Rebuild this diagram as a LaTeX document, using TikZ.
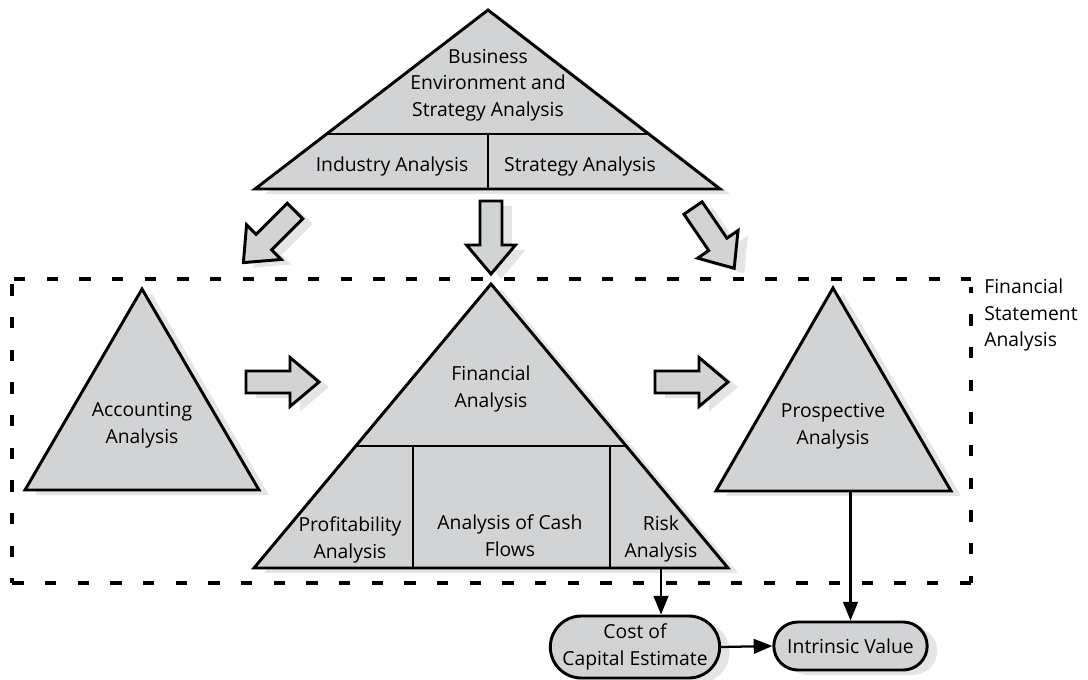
\documentclass[tikz,border=0pt]{standalone}
\usepackage{fontspec}
\setmainfont{Open Sans}
\usetikzlibrary{arrows.meta,shapes.misc,shadows}
\definecolor{boxfill}{RGB}{210,211,213}
\definecolor{shadowc}{RGB}{228,229,231}
\tikzset{
  lbl/.style={font=\fontsize{14.5}{20}\selectfont, align=center, inner sep=0pt},
  shape3/.style={draw=black, fill=boxfill, line width=2.2pt, line join=miter},
  divline/.style={line width=2.2pt},
  shad/.style={drop shadow={shadow xshift=7.5pt, shadow yshift=-3.75pt, fill=shadowc, opacity=1}},
  conn/.style={line width=1.7pt, -{Triangle[length=14pt,width=11pt]}},
  pill/.style={rounded rectangle, draw=black, fill=boxfill, line width=2.2pt, inner sep=2pt,
    font=\fontsize{14.5}{20}\selectfont, align=center, shad},
  dashbox/.style={line width=2.7pt, dash pattern=on 8.5pt off 16pt},
  barrow/.pic={
    \fill[shadowc, shift={(7.5pt,-3.75pt)}, rotate=#1]
      (0,-11) -- (44,-11) -- (44,-24.5) -- (73,0) -- (44,24.5) -- (44,11) -- (0,11) -- cycle;
    \filldraw[shape3, rotate=#1]
      (0,-11) -- (44,-11) -- (44,-24.5) -- (73,0) -- (44,24.5) -- (44,11) -- (0,11) -- cycle;
  }
}
\begin{document}
\begin{tikzpicture}[x=0.75pt,y=-0.75pt]
\useasboundingbox (0,0) rectangle (1088,679);

% dashed frame
\draw[dashbox] (14,279) -- (971,279);
\draw[dashbox, dash phase=4pt] (971,287) -- (971,583);
\draw[dashbox] (971,583) -- (12,583);
\draw[dashbox, dash phase=5pt] (12,583) -- (12,279);

% top triangle
\filldraw[shape3, shad] (488,10) -- (720,189) -- (255,189) -- cycle;
\draw[divline] (326.6,134) -- (648.7,134);
\draw[divline] (488,134) -- (488,189);

% accounting triangle
\filldraw[shape3, shad] (142,289) -- (259,490) -- (25,490) -- cycle;

% financial triangle
\filldraw[shape3, shad] (491,284) -- (728,568) -- (254,568) -- cycle;
\draw[divline] (355.8,446) -- (626.2,446);
\draw[divline] (413,446) -- (413,568);
\draw[divline] (610,446) -- (610,568);

% prospective triangle
\filldraw[shape3, shad] (833,288) -- (951,491) -- (716,491) -- cycle;

% block arrows
\pic at (295,211) {barrow=225};
\pic at (491,201) {barrow=-90};
\pic at (693,208) {barrow=-55.65};
\pic at (246,382) {barrow=0};
\pic at (655,382) {barrow=0};

% labels
\node[lbl] (bea) at (488,85) {Business\\Environment and\\Strategy Analysis};
\node[lbl] (ind) at (392,166) {Industry Analysis};
\node[lbl] (strat) at (580,166) {Strategy Analysis};
\node[lbl] (acc) at (142,425) {Accounting\\Analysis};
\node[lbl] (fin) at (491,389) {Financial\\Analysis};
\node[lbl] (prof) at (350,540) {Profitability\\Analysis};
\node[lbl] (cash) at (510,536) {Analysis of Cash\\Flows};
\node[lbl] (risk) at (661,539) {Risk\\Analysis};
\node[lbl] (pros) at (833,426) {Prospective\\Analysis};
\node[lbl, align=left, anchor=west] (fsa) at (984,315) {Financial\\Statement\\Analysis};

% outcome nodes
\node[pill, minimum width=131pt, minimum height=46.5pt] (cost) at (635,647) {Cost of\\Capital Estimate};
\node[pill, minimum width=119pt, minimum height=36pt] (iv) at (850.5,646) {Intrinsic Value};

% connectors
\coordinate (riskout) at (661,568);
\coordinate (prosout) at (850.5,491);
\draw[conn] (riskout) -- (riskout |- cost.north);
\draw[conn] (prosout) -- (prosout |- iv.north);
\draw[conn] (cost.east) -- (iv.west);
\end{tikzpicture}
\end{document}
